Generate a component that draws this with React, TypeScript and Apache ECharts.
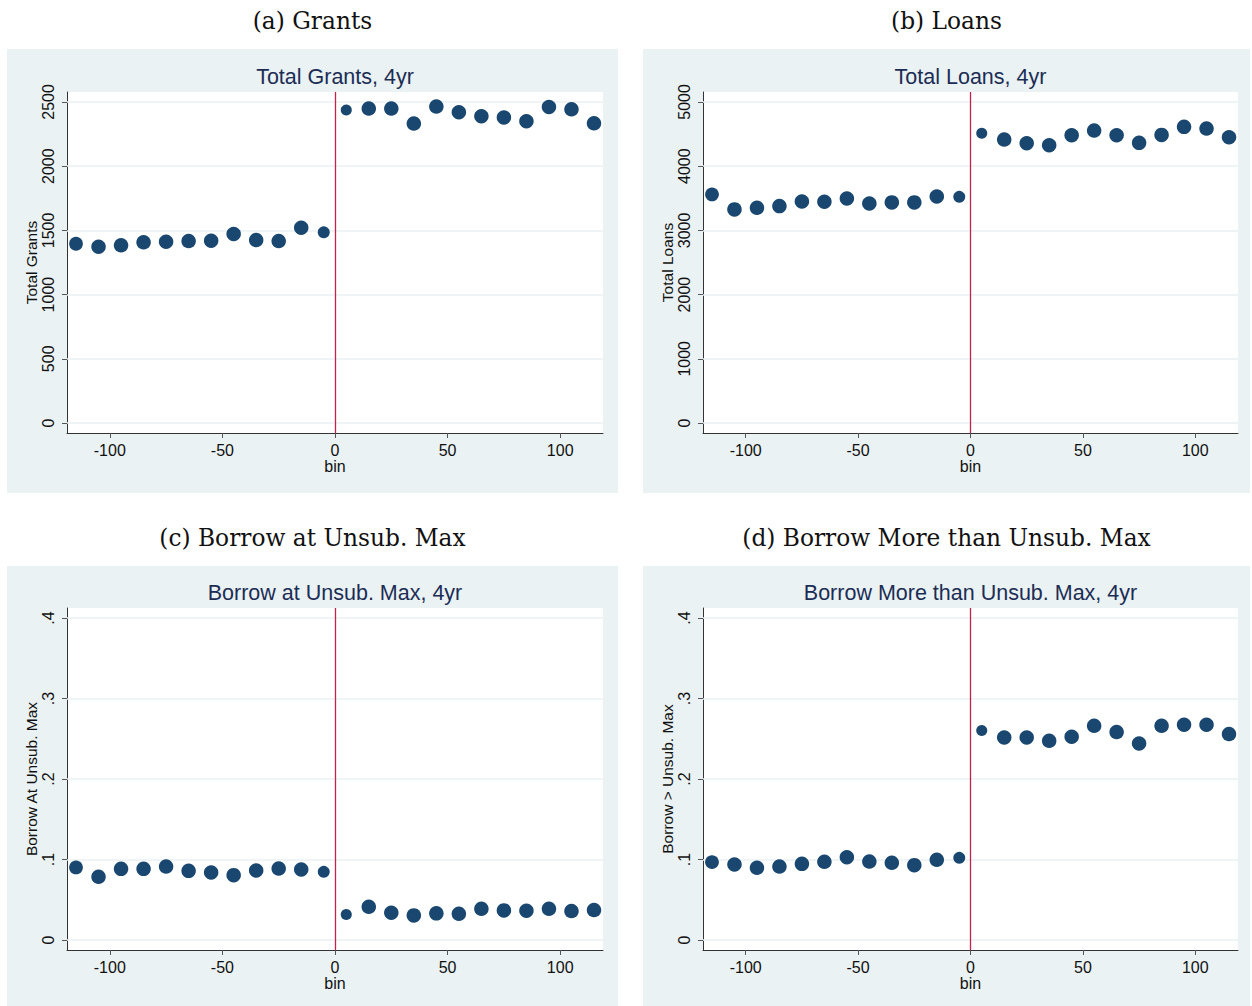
import React, { useEffect, useRef } from "react";
import * as echarts from "echarts";

// ---- data ----
const bins = [-115, -105, -95, -85, -75, -65, -55, -45, -35, -25, -15, -5, 5, 15, 25, 35, 45, 55, 65, 75, 85, 95, 105, 115];
// relative number of observations per bin (drives marker area)
const binWeights = [0.9, 1, 1, 1, 1, 1, 1, 1, 1, 1, 1, 0.68, 0.58, 1, 1, 1, 1, 1, 1, 1, 1, 1, 1, 1];

const grants = [1396, 1373, 1384, 1407, 1412, 1417, 1420, 1472, 1425, 1417, 1521, 1485, 2438, 2449, 2449, 2332, 2464, 2420, 2389, 2379, 2350, 2461, 2443, 2334];
const loans = [3560, 3327, 3352, 3378, 3451, 3446, 3498, 3420, 3436, 3436, 3529, 3523, 4513, 4415, 4358, 4327, 4482, 4555, 4482, 4363, 4487, 4612, 4586, 4451];
const borrowAtMax = [0.0901, 0.0785, 0.0884, 0.0884, 0.0913, 0.0859, 0.0839, 0.0806, 0.0864, 0.0888, 0.0876, 0.0847, 0.0318, 0.0413, 0.0339, 0.0306, 0.0331, 0.0326, 0.0388, 0.0368, 0.0364, 0.0388, 0.036, 0.0372];
const borrowMoreMax = [0.0967, 0.0938, 0.0897, 0.0913, 0.0946, 0.0971, 0.1029, 0.0975, 0.0959, 0.093, 0.0996, 0.1021, 0.2603, 0.2516, 0.2516, 0.2475, 0.2525, 0.2661, 0.2583, 0.2442, 0.2661, 0.2674, 0.2674, 0.2558];

const xTicks = [-100, -50, 0, 50, 100];
const grantTicks = [0, 500, 1000, 1500, 2000, 2500];
const loanTicks = [0, 1000, 2000, 3000, 4000, 5000];
const shareTicks = [0, 0.1, 0.2, 0.3, 0.4];

const panelLabels = ["(a) Grants", "(b) Loans", "(c) Borrow at Unsub. Max", "(d) Borrow More than Unsub. Max"];
const chartTitles = ["Total Grants, 4yr", "Total Loans, 4yr", "Borrow at Unsub. Max, 4yr", "Borrow More than Unsub. Max, 4yr"];
const yNames = ["Total Grants", "Total Loans", "Borrow At Unsub. Max", "Borrow > Unsub. Max"];
const xName = "bin";
const cutoff = 0;

// ---- layout / style ----
const W = 1252;
const H = 1006;
const NAVY = "#1a476f";
const RED = "#c1234b";
const BG = "#eaf2f3";
const GRIDC = "#eaf2f3";
const SANS = "Liberation Sans, Arial, sans-serif";
const SERIF = "DejaVu Serif, serif";

const boxes = [
  { x: 7, y: 49, w: 611, h: 444 },
  { x: 643, y: 49, w: 607, h: 444 },
  { x: 7, y: 566, w: 611, h: 440 },
  { x: 643, y: 566, w: 607, h: 440 },
];
const grids = [
  { left: 67, top: 92, width: 536, height: 341 },
  { left: 703, top: 92, width: 535, height: 341 },
  { left: 67, top: 608, width: 536, height: 342 },
  { left: 703, top: 608, width: 535, height: 342 },
];
const labelY = [20, 20, 537, 537];
const titleY = [77, 77, 593, 593];

const panels = [
  { values: grants, ticks: grantTicks },
  { values: loans, ticks: loanTicks },
  { values: borrowAtMax, ticks: shareTicks },
  { values: borrowMoreMax, ticks: shareTicks },
];

const fmtTick = (v: number) => {
  if (v === 0) return "0";
  if (Math.abs(v) < 1) return String(v).replace(/^0/, "");
  return String(v);
};

function buildOption() {
  const graphic: any[] = [];
  const xAxis: any[] = [];
  const yAxis: any[] = [];
  const series: any[] = [];
  const gridOpts: any[] = [];

  panels.forEach((p, i) => {
    const b = boxes[i];
    const g = grids[i];
    graphic.push({
      type: "rect",
      z: -10,
      silent: true,
      shape: { x: b.x, y: b.y, width: b.w, height: b.h },
      style: { fill: BG },
    });
    graphic.push({
      type: "text",
      x: b.x + b.w / 2,
      y: labelY[i],
      style: {
        text: panelLabels[i],
        font: `23.3px ${SERIF}`,
        fill: "#111",
        textAlign: "center",
        textVerticalAlign: "middle",
      },
    });
    graphic.push({
      type: "text",
      x: g.left + g.width / 2,
      y: titleY[i],
      style: {
        text: chartTitles[i],
        font: `21.5px ${SANS}`,
        fill: "#1c2d55",
        textAlign: "center",
        textVerticalAlign: "middle",
      },
    });

    gridOpts.push({
      left: g.left,
      top: g.top,
      width: g.width,
      height: g.height,
      show: true,
      backgroundColor: "#ffffff",
      borderWidth: 0,
      containLabel: false,
    });

    const top = p.ticks[p.ticks.length - 1];
    xAxis.push({
      type: "value",
      gridIndex: i,
      min: -119,
      max: 119,
      name: xName,
      nameLocation: "middle",
      nameGap: 25,
      nameTextStyle: { fontFamily: SANS, fontSize: 16, color: "#111" },
      axisLine: { show: true, onZero: false, lineStyle: { color: "#333", width: 1 } },
      axisTick: { show: true, length: 5, customValues: xTicks, lineStyle: { color: "#555" } },
      axisLabel: { customValues: xTicks, margin: 9, fontFamily: SANS, fontSize: 16, color: "#111" },
      splitLine: { show: false },
    });
    yAxis.push({
      type: "value",
      gridIndex: i,
      min: -0.031 * top,
      max: 1.031 * top,
      name: yNames[i],
      nameLocation: "middle",
      nameRotate: 90,
      nameGap: 28,
      nameTextStyle: { fontFamily: SANS, fontSize: 15.5, color: "#111" },
      axisLine: { show: true, onZero: false, lineStyle: { color: "#333", width: 1 } },
      axisTick: { show: true, length: 5, customValues: p.ticks, lineStyle: { color: "#555" } },
      axisLabel: {
        customValues: p.ticks,
        rotate: 90,
        align: "center",
        verticalAlign: "bottom",
        margin: 11,
        fontFamily: SANS,
        fontSize: 16,
        color: "#111",
        formatter: (v: number) => fmtTick(v),
      },
      splitLine: { show: false },
    });

    // gridlines + cutoff line
    series.push({
      type: "scatter",
      xAxisIndex: i,
      yAxisIndex: i,
      data: [],
      silent: true,
      z: 1,
      markLine: {
        silent: true,
        symbol: "none",
        label: { show: false },
        lineStyle: { color: GRIDC, width: 1.5, type: "solid" },
        data: p.ticks.map((t) => ({ yAxis: t })),
      },
    });
    series.push({
      type: "scatter",
      xAxisIndex: i,
      yAxisIndex: i,
      data: [],
      silent: true,
      z: 2,
      markLine: {
        silent: true,
        symbol: "none",
        label: { show: false },
        lineStyle: { color: RED, width: 1.3, type: "solid" },
        data: [{ xAxis: cutoff }],
      },
    });
    series.push({
      type: "scatter",
      xAxisIndex: i,
      yAxisIndex: i,
      z: 5,
      data: bins.map((x, k) => [x, p.values[k], binWeights[k]]),
      symbol: "circle",
      symbolSize: (d: number[]) => 14.5 * Math.sqrt(d[2]),
      itemStyle: { color: NAVY, opacity: 1 },
    });
  });

  return {
    animation: false,
    backgroundColor: "#ffffff",
    grid: gridOpts,
    xAxis,
    yAxis,
    series,
    graphic,
  };
}

export default function App() {
  const ref = useRef<HTMLDivElement>(null);
  useEffect(() => {
    document.body.style.margin = "0";
    const chart = echarts.init(ref.current!, null, { renderer: "svg", width: W, height: H });
    chart.setOption(buildOption() as any);
    return () => chart.dispose();
  }, []);
  return <div ref={ref} style={{ width: W, height: H, position: "absolute", left: 0, top: 0 }} />;
}
